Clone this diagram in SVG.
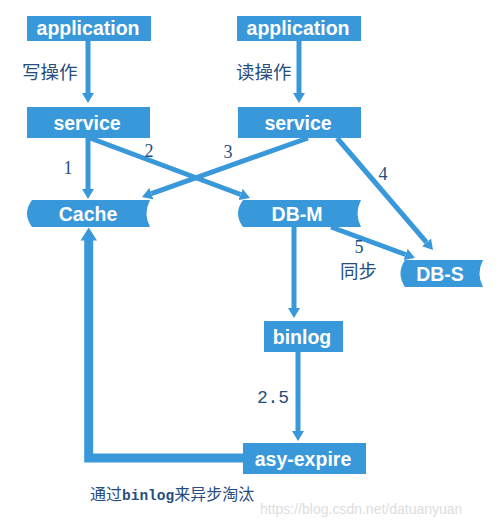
<svg xmlns="http://www.w3.org/2000/svg" width="498" height="527" viewBox="0 0 498 527">
<style>
.box{fill:#3898DA}
.nt{fill:#FFFFFF;font-family:"Liberation Sans",Arial,sans-serif;font-weight:bold;font-size:19.5px;text-anchor:middle}
.lbl{fill:#264D80;font-family:"Liberation Serif","Noto Sans CJK SC",serif;font-size:18px;text-anchor:middle}
.cn{fill:#264D80;font-family:"Noto Sans CJK SC",serif;font-size:18.5px}
.ln{fill:none;stroke:#3898DA;stroke-width:5}
</style>
<defs>
<marker id="ah" markerUnits="userSpaceOnUse" markerWidth="10" markerHeight="12" refX="0" refY="6" orient="auto">
<path d="M0,0 L10,6 L0,12 Z" fill="#3898DA"/>
</marker>
</defs>
<rect width="498" height="527" fill="#FFFFFF"/>
<g id="connectors">
<line class="ln" x1="88" y1="41" x2="88" y2="93" marker-end="url(#ah)"/>
<line class="ln" x1="299" y1="41" x2="299" y2="93" marker-end="url(#ah)"/>
<line class="ln" x1="88" y1="138" x2="88" y2="189" marker-end="url(#ah)"/>
<line class="ln" x1="90" y1="138" x2="240.6" y2="194.5" marker-end="url(#ah)"/>
<line class="ln" x1="308" y1="138" x2="151.4" y2="193.6" marker-end="url(#ah)"/>
<line class="ln" x1="337" y1="138" x2="426.5" y2="242.4" marker-end="url(#ah)"/>
<line class="ln" x1="331" y1="227" x2="405.6" y2="254.5" marker-end="url(#ah)"/>
<line class="ln" x1="294" y1="227" x2="294" y2="308" marker-end="url(#ah)"/>
<line class="ln" x1="298" y1="352" x2="298" y2="431" marker-end="url(#ah)"/>
<polyline points="244,458 88.7,458 88.7,239" fill="none" stroke="#3898DA" stroke-width="9"/>
<path d="M80.5,240.5 L88.7,227.5 L97,240.5 Z" fill="#3898DA"/>
</g>
<g id="app-left"><rect class="box" x="27" y="16" width="124" height="25"/><text class="nt" x="88" y="35">application</text></g>
<g id="app-right"><rect class="box" x="237" y="16" width="124" height="25"/><text class="nt" x="298" y="35">application</text></g>
<g id="service-left"><rect class="box" x="27" y="107" width="123" height="31"/><text class="nt" x="87" y="129.5">service</text></g>
<g id="service-right"><rect class="box" x="238" y="107" width="123" height="31"/><text class="nt" x="298" y="129.5">service</text></g>
<g id="cache"><path class="box" d="M32,200 H150 Q143,213.5 150,227 H32 Q22,213.5 32,200 Z"/><text class="nt" x="88" y="220.5">Cache</text></g>
<g id="db-m"><path class="box" d="M243,200 H361 Q354,213.5 361,227 H243 Q233,213.5 243,200 Z"/><text class="nt" x="297" y="220.5">DB-M</text></g>
<g id="db-s"><path class="box" d="M405,260 H483 Q476,273.5 483,287 H405 Q396,273.5 405,260 Z"/><text class="nt" x="440" y="280.5">DB-S</text></g>
<g id="binlog"><rect class="box" x="264" y="321" width="79" height="31"/><text class="nt" x="302" y="343.5">binlog</text></g>
<g id="asy-expire"><rect class="box" x="243" y="443" width="123" height="31"/><text class="nt" x="303" y="465.5">asy-expire</text></g>
<g id="labels">
<text class="cn" x="22" y="79">写操作</text>
<text class="cn" x="236" y="79">读操作</text>
<text class="lbl" x="68" y="174">1</text>
<text class="lbl" x="149" y="157">2</text>
<text class="lbl" x="228" y="158">3</text>
<text class="lbl" x="383" y="180">4</text>
<text class="lbl" x="359" y="253">5</text>
<text class="cn" x="340" y="278">同步</text>
<text x="257" y="403" fill="#264D80" font-family="'Liberation Mono',monospace" font-size="18px" textLength="32">2.5</text>
<text x="90" y="500" fill="#264D80" font-size="16px" font-family="'Noto Sans CJK SC',serif"><tspan>通过</tspan><tspan font-family="'Liberation Mono',monospace" font-weight="bold" font-size="14.5px">binlog</tspan><tspan>来异步淘汰</tspan></text>
<text x="260" y="514" fill="#DDDDDD" font-family="'Liberation Sans',Arial,sans-serif" font-size="14px">https://blog.csdn.net/datuanyuan</text>
</g>
</svg>
